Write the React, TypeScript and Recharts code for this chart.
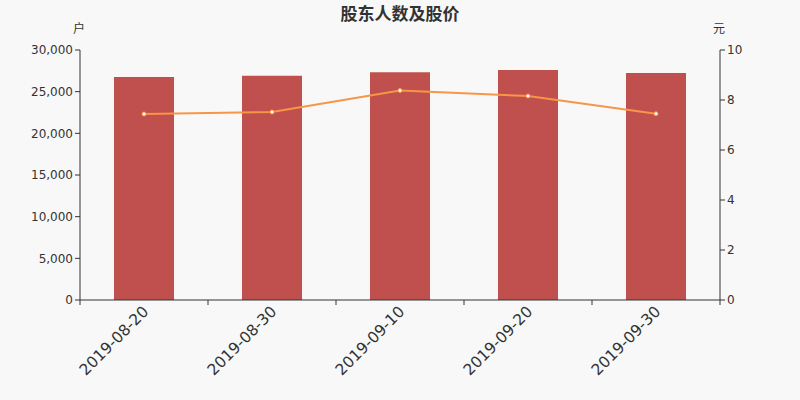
import { Bar, ComposedChart, Line, XAxis, YAxis } from "recharts";

const dates = ["2019-08-20", "2019-08-30", "2019-09-10", "2019-09-20", "2019-09-30"];
const holders = [26760, 26900, 27320, 27600, 27240];
const prices = [7.44, 7.52, 8.38, 8.16, 7.45];
const leftTicks = [0, 5000, 10000, 15000, 20000, 25000, 30000];
const rightTicks = [0, 2, 4, 6, 8, 10];

const data = dates.map((d, i) => ({ date: d, holders: holders[i], price: prices[i] }));

const BAND = 128;
const FONT = "'DejaVu Sans', sans-serif";

function DateTick(props: any) {
  const { x, y, payload, index } = props;
  const isLast = index === dates.length - 1;
  const ax = x + 2;
  const ay = y + 1;
  return (
    <g>
      <line x1={x - BAND / 2} y1={y - 8} x2={x - BAND / 2} y2={y - 3} stroke="#333" />
      {isLast && <line x1={x + BAND / 2} y1={y - 8} x2={x + BAND / 2} y2={y - 3} stroke="#333" />}
      <text
        x={ax}
        y={ay}
        textAnchor="end"
        dominantBaseline="central"
        transform={`rotate(-45 ${ax} ${ay})`}
        fill="#333"
        fontSize={15.5}
        fontFamily={FONT}
      >
        {payload.value}
      </text>
    </g>
  );
}

export default function App() {
  return (
    <div style={{ position: "absolute", left: 0, top: 0, width: 800, height: 400, background: "#f8f8f8" }}>
      <div
        style={{
          position: "absolute",
          top: 0,
          width: 800,
          height: 26,
          lineHeight: "26px",
          textAlign: "center",
          fontFamily: "'Noto Sans CJK SC', sans-serif",
          fontWeight: "bold",
          fontSize: 17,
          color: "#333",
        }}
      >
        股东人数及股价
      </div>
      <div style={{ position: "absolute", left: 73, top: 19, fontSize: 12, color: "#333", fontFamily: "'Noto Sans CJK SC', sans-serif" }}>
        户
      </div>
      <div style={{ position: "absolute", left: 713, top: 19, fontSize: 12, color: "#333", fontFamily: "'Noto Sans CJK SC', sans-serif" }}>
        元
      </div>
      <ComposedChart width={800} height={400} data={data} margin={{ top: 50, right: 40, left: 20, bottom: 0 }}>
        <XAxis
          dataKey="date"
          height={100}
          interval={0}
          tickLine={false}
          axisLine={{ stroke: "#333" }}
          tick={<DateTick />}
        />
        <YAxis
          yAxisId="left"
          width={60}
          domain={[0, 30000]}
          ticks={leftTicks}
          tickFormatter={(v: number) => v.toLocaleString("en-US")}
          axisLine={{ stroke: "#333" }}
          tickLine={{ stroke: "#333" }}
          tickSize={5}
          tick={{ fill: "#333", fontSize: 12, fontFamily: FONT }}
        />
        <YAxis
          yAxisId="right"
          orientation="right"
          width={40}
          domain={[0, 10]}
          ticks={rightTicks}
          axisLine={{ stroke: "#333" }}
          tickLine={{ stroke: "#333" }}
          tickSize={5}
          tick={{ fill: "#333", fontSize: 12, fontFamily: FONT }}
        />
        <Bar yAxisId="left" dataKey="holders" fill="#c0504d" barSize={60} isAnimationActive={false} />
        <Line
          yAxisId="right"
          dataKey="price"
          stroke="#f79646"
          strokeWidth={2}
          dot={{ r: 2, fill: "#fff", stroke: "#f79646", strokeWidth: 1 }}
          isAnimationActive={false}
        />
      </ComposedChart>
    </div>
  );
}
